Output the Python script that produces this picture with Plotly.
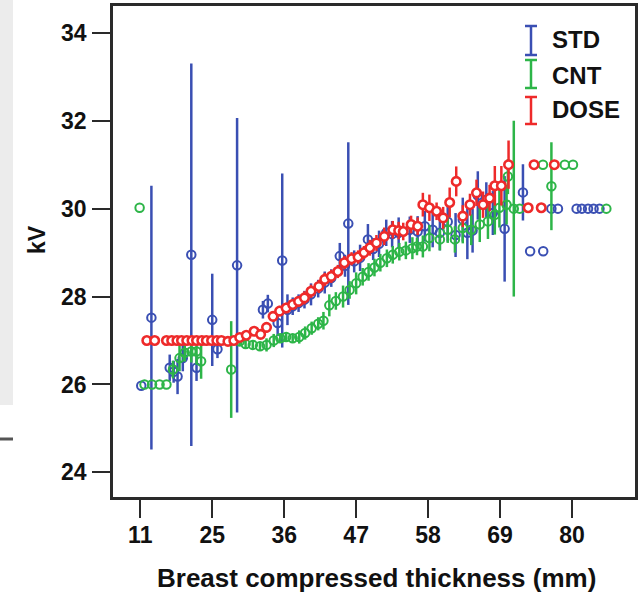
import plotly.graph_objects as go

# ---------------- data ----------------
# x positions are on the chart's (evenly spaced) thickness axis
x_std = [14.15, 15.7, 18.5, 19.1, 19.7, 20.5, 21.8, 22.6, 25.0, 25.8, 28.8, 32.75, 33.5, 35.0,
         35.7, 36.5, 37.3, 38.2, 39.1, 40.1, 41.2, 42.2, 43.2, 44.5, 45.3, 45.8, 46.7, 47.6, 48.8,
         49.6, 50.5, 51.6, 52.5, 53.5, 55.2, 56.4, 57.5, 58.7, 59.8, 61.0, 62.2, 63.3, 64.0, 64.8,
         65.6, 66.9, 67.9, 69.7, 72.5, 73.6, 75.6, 76.85, 77.85, 80.7, 81.5, 82.45, 83.3, 84.2]
y_std = [25.97, 27.52, 26.38, 26.29, 26.18, 26.6, 28.95, 26.38, 27.47, 26.8, 28.71, 27.7, 27.84, 27.4,
         28.82, 27.7, 27.78, 27.85, 27.93, 28.05, 28.18, 28.32, 28.42, 28.92, 28.7, 29.66, 28.8, 28.88, 29.3,
         29.08, 29.2, 29.45, 29.42, 29.45, 29.52, 29.48, 29.6, 29.52, 29.45, 29.7, 29.4, 29.75, 29.45, 29.5,
         30.3, 30.2, 29.9, 29.54, 30.37, 29.03, 29.03, 30.0, 30.0, 30.0, 30.0, 30.0, 30.0, 30.0]
e_std = [0, 3.0, 0.3, 0.25, 0.4, 0.3, 4.35, 0.3, 1.05, 0.2, 3.35, 0.2, 0.2, 0.3,
         1.98, 0.35, 0.2, 0.2, 0.2, 0.25, 0.2, 0.25, 0.2, 0.3, 0.25, 1.85, 0.25, 0.3, 0.35,
         0.25, 0.3, 0.3, 0.3, 0.35, 0.3, 0.35, 0.35, 0.4, 0.4, 0.45, 0.5, 0.5, 0.6, 0.5,
         0.55, 0.4, 0.5, 1.2, 0.64, 0, 0, 0, 0, 0, 0, 0, 0, 0]

x_cnt = [13.9, 14.65, 15.8, 16.95, 18.0, 19.0, 20.0, 20.8, 21.8, 22.6, 23.3, 27.9, 29.2, 30.1, 31.2,
         32.3, 33.3, 34.4, 35.4, 36.3, 37.3, 38.3, 39.2, 40.2, 41.2, 42.0, 42.9, 43.9, 45.0, 46.0,
         47.0, 48.0, 48.9, 49.8, 50.7, 51.7, 52.6, 53.6, 54.6, 55.6, 56.3, 57.2, 58.2, 59.8, 61.0,
         62.1, 63.3, 64.6, 65.9, 67.15, 68.2, 68.9, 70.0, 70.2, 71.1, 72.0, 75.56, 76.85, 78.9, 80.15, 85.25]
y_cnt = [30.02, 26.0, 26.0, 26.0, 26.0, 26.34, 26.6, 26.72, 26.75, 26.75, 26.53, 26.34, 26.98, 26.92, 26.9,
         26.87, 26.9, 27.0, 27.05, 27.08, 27.05, 27.08, 27.17, 27.28, 27.38, 27.45, 27.8, 27.9, 28.0, 28.15,
         28.3, 28.45, 28.56, 28.66, 28.77, 28.87, 28.95, 29.02, 29.05, 29.1, 29.14, 29.14, 29.33, 29.3, 29.52,
         29.3, 29.56, 29.52, 29.64, 29.71, 29.86, 30.02, 30.09, 30.73, 30.0, 30.0, 31.0, 30.51, 31.0, 31.0, 30.0]
e_cnt = [0, 0, 0, 0, 0, 0.2, 0.3, 0.2, 0.25, 0.3, 0.4, 1.1, 0.1, 0.1, 0.1,
         0.1, 0.15, 0.15, 0.1, 0.1, 0.1, 0.15, 0.15, 0.15, 0.15, 0.2, 0.25, 0.2, 0.25, 0.2,
         0.25, 0.2, 0.2, 0.2, 0.2, 0.2, 0.2, 0.2, 0.2, 0.25, 0.2, 0.25, 0.3, 0.25, 0.3,
         0.3, 0.35, 0.35, 0.4, 0.4, 0.45, 0.45, 0.45, 0.4, 2.0, 0, 0, 1.0, 0, 0, 0]

x_dose = [15.0, 16.2, 18.0, 18.8, 19.6, 20.3, 21.1, 21.9, 22.6, 23.4, 24.1, 24.9, 25.7, 26.4, 27.4,
          28.3, 29.2, 30.2, 31.4, 32.4, 33.3, 34.3, 35.3, 36.3, 37.3, 38.2, 39.1, 40.1, 41.3, 42.2,
          43.2, 44.2, 45.2, 46.3, 47.3, 48.2, 49.1, 50.1, 51.3, 52.6, 53.5, 54.2, 55.4, 56.4, 57.2,
          58.2, 59.3, 60.3, 61.3, 62.3, 63.3, 64.4, 65.4, 66.4, 67.4, 68.2, 69.2, 70.3, 73.3, 74.2, 75.3, 77.3]
y_dose = [27.0, 27.0, 27.0, 27.0, 27.0, 27.0, 27.0, 27.0, 27.0, 27.0, 27.0, 27.0, 27.0, 27.0, 26.98,
          27.0, 27.07, 27.12, 27.21, 27.14, 27.3, 27.55, 27.67, 27.74, 27.82, 27.89, 27.97, 28.12, 28.23, 28.39,
          28.46, 28.57, 28.77, 28.86, 28.9, 29.0, 29.11, 29.22, 29.37, 29.52, 29.5, 29.48, 29.64, 29.6, 30.09,
          30.02, 29.94, 29.79, 30.14, 30.62, 29.83, 30.09, 30.36, 30.09, 30.24, 30.52, 30.52, 31.0, 30.02, 31.0, 30.02, 31.0]
e_dose = [0.05, 0.05, 0.05, 0.05, 0.05, 0.05, 0.05, 0.05, 0.05, 0.05, 0.05, 0.05, 0.05, 0.05, 0.08,
          0.08, 0.1, 0.1, 0.1, 0.1, 0.12, 0.12, 0.12, 0.12, 0.12, 0.12, 0.15, 0.15, 0.15, 0.15,
          0.15, 0.15, 0.15, 0.15, 0.15, 0.15, 0.18, 0.18, 0.2, 0.2, 0.2, 0.2, 0.2, 0.2, 0.27,
          0.3, 0.2, 0.25, 0.34, 0.34, 0.25, 0.25, 0.3, 0.3, 0.3, 0.45, 0.45, 0.55, 0, 0, 0, 0]

tick_vals = [14, 25, 36, 47, 58, 69, 80]
tick_text = ["11", "25", "36", "47", "58", "69", "80"]
y_ticks = [24, 26, 28, 30, 32, 34]
series_names = ["STD", "CNT", "DOSE"]

BLUE = "#3a4fb3"
GREEN = "#2db548"
RED = "#ee2a2a"
FONT = "Liberation Sans, Arial, sans-serif"

# ---------------- figure ----------------
W, H = 642, 592
L, R, T, B = 113, 7, 6, 95
PW, PH = W - L - R, H - T - B


def px(xp):
    return (xp - L) / PW


def py(yp):
    return (H - B - yp) / PH


fig = go.Figure()

fig.add_trace(go.Scatter(
    x=x_std, y=y_std, mode="markers", name="STD", showlegend=False,
    error_y=dict(type="data", array=e_std, visible=True, color=BLUE, thickness=2.5, width=0),
    marker=dict(symbol="circle-open", size=8.5, color=BLUE, line=dict(width=2, color=BLUE)),
))
fig.add_trace(go.Scatter(
    x=x_cnt, y=y_cnt, mode="markers", name="CNT", showlegend=False,
    error_y=dict(type="data", array=e_cnt, visible=True, color=GREEN, thickness=2.5, width=0),
    marker=dict(symbol="circle-open", size=8.5, color=GREEN, line=dict(width=2, color=GREEN)),
))
fig.add_trace(go.Scatter(
    x=x_dose, y=y_dose, mode="markers", name="DOSE", showlegend=False,
    error_y=dict(type="data", array=e_dose, visible=True, color=RED, thickness=2.5, width=0),
    marker=dict(symbol="circle", size=8.5, color="white", line=dict(width=2.6, color=RED)),
))

shapes = []
annotations = []

# custom legend (error-bar glyphs + bold labels)
legend_rows = [(BLUE, 26, 55, 40), (GREEN, 60, 88, 75), (RED, 97, 124, 109)]
for (col, yt, yb, ytxt), name in zip(legend_rows, series_names):
    shapes.append(dict(type="line", xref="paper", yref="paper", x0=px(531), x1=px(531),
                       y0=py(yt), y1=py(yb), line=dict(color=col, width=2.5)))
    for yy in (yt, yb):
        shapes.append(dict(type="line", xref="paper", yref="paper", x0=px(525), x1=px(537),
                           y0=py(yy), y1=py(yy), line=dict(color=col, width=2.5)))
    annotations.append(dict(text=name, xref="paper", yref="paper", x=px(550), y=py(ytxt),
                            xanchor="left", yanchor="middle", showarrow=False,
                            font=dict(family=FONT, size=24, color="#111", weight="bold")))

# axis titles
annotations.append(dict(text="Breast compressed thickness (mm)", xref="paper", yref="paper",
                        x=px(376), y=py(578), xanchor="center", yanchor="middle", showarrow=False,
                        font=dict(family=FONT, size=26, color="#111", weight="bold")))
annotations.append(dict(text="kV", xref="paper", yref="paper", textangle=-90,
                        x=px(37), y=py(240), xanchor="center", yanchor="middle", showarrow=False,
                        font=dict(family=FONT, size=23, color="#111", weight="bold")))

# page decoration at the left edge of the source figure
shapes.append(dict(type="rect", xref="paper", yref="paper", x0=px(0), x1=px(13), y0=py(405), y1=py(0),
                   fillcolor="#ececec", line=dict(width=0), layer="below"))
shapes.append(dict(type="line", xref="paper", yref="paper", x0=px(0), x1=px(13), y0=py(439), y1=py(439),
                   line=dict(color="#555555", width=3)))

axis_common = dict(showgrid=False, zeroline=False, showline=True, linewidth=2.5, linecolor="#2a2a2a",
                   mirror=True, ticks="outside", ticklen=18, tickwidth=2, tickcolor="#2a2a2a",
                   tickfont=dict(family=FONT, size=23, color="#111", weight="bold"))

fig.update_layout(
    width=W, height=H,
    margin=dict(l=L, r=R, t=T, b=B, autoexpand=False),
    paper_bgcolor="white", plot_bgcolor="white",
    showlegend=False,
    xaxis=dict(range=[9.83, 89.63], tickmode="array", tickvals=tick_vals, ticktext=tick_text,
               ticklabelstandoff=-2, **axis_common),
    yaxis=dict(range=[23.44, 34.61], tickmode="array", tickvals=y_ticks,
               ticktext=[str(v) for v in y_ticks], ticklabelstandoff=1, **axis_common),
    shapes=shapes,
    annotations=annotations,
)

fig.write_html(
    "out.html",
    config={"displayModeBar": False},
    post_script="document.body.style.margin='0px';document.body.style.overflow='hidden';",
)
